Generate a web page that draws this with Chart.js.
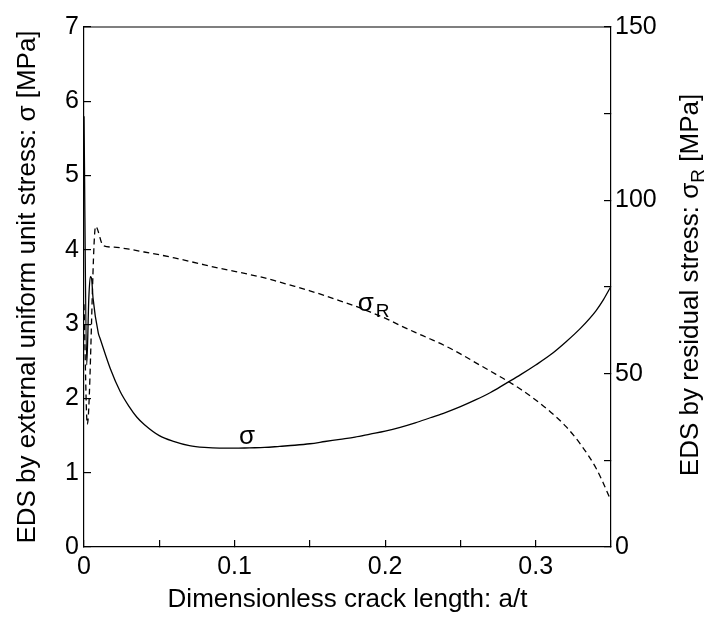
<!DOCTYPE html>
<html>
<head>
<meta charset="utf-8">
<script src="https://cdn.jsdelivr.net/npm/chart.js@4.4.1/dist/chart.umd.min.js"></script>
<style>
  html, body { margin: 0; padding: 0; background: #fff; }
  #edsChart { display: block; }
</style>
</head>
<body>
<canvas id="edsChart" width="705" height="618"></canvas>
<script>
// sigma: EDS by external uniform unit stress (left axis) vs a/t
const sigmaX = [0, 0.0018, 0.0032, 0.0042, 0.0050, 0.0060, 0.0095, 0.0108, 0.0175, 0.0241, 0.030,
                0.035, 0.04, 0.05, 0.06, 0.07, 0.08, 0.09, 0.10, 0.11, 0.12,
                0.13, 0.14, 0.15, 0.16, 0.17, 0.18, 0.19, 0.20, 0.21, 0.22,
                0.23, 0.24, 0.25, 0.26, 0.27, 0.28, 0.29, 0.30, 0.31, 0.32,
                0.33, 0.34, 0.345, 0.35];
const sigmaY = [5.8, 2.45, 3.35, 3.64, 3.62, 3.35, 2.88, 2.80, 2.40, 2.09, 1.89,
                1.75, 1.65, 1.50, 1.42, 1.365, 1.34, 1.33, 1.33, 1.335, 1.34,
                1.355, 1.37, 1.39, 1.42, 1.45, 1.48, 1.52, 1.56, 1.61, 1.67,
                1.74, 1.81, 1.89, 1.98, 2.08, 2.20, 2.32, 2.45, 2.59, 2.76,
                2.95, 3.18, 3.33, 3.51];

// sigma_R: EDS by residual stress (right axis) vs a/t
const sigmaRX = [0, 0.0022, 0.0077, 0.0128, 0.02, 0.03, 0.04, 0.05, 0.06, 0.07,
                 0.08, 0.09, 0.10, 0.11, 0.12, 0.13, 0.14, 0.15, 0.16, 0.17,
                 0.18, 0.19, 0.20, 0.21, 0.22, 0.23, 0.24, 0.25, 0.26, 0.27,
                 0.28, 0.29, 0.30, 0.31, 0.32, 0.33, 0.34, 0.345, 0.35];
const sigmaRY = [70, 35.4, 92.5, 86.9, 86.5, 85.9, 85.1, 84.3, 83.4, 82.4,
                 81.4, 80.4, 79.5, 78.6, 77.6, 76.4, 75.2, 73.9, 72.5, 71.0,
                 69.5, 67.8, 66.0, 63.9, 61.9, 60.0, 58.0, 55.7, 53.2, 50.7,
                 48.2, 45.5, 42.4, 38.9, 34.8, 29.5, 22.8, 18.3, 13.3];

// labelled ticks
const xLabels = [0, 0.1, 0.2, 0.3];
const leftLabels = [0, 1, 2, 3, 4, 5, 6, 7];
const rightLabels = [0, 50, 100, 150];

// curve labels, in data units of the left axis
const curveLabels = [
    { text: 'σ', sub: '', x: 0.1082, y: 1.475 },
    { text: 'σ', sub: 'R', x: 0.1871, y: 3.264 }
];

const FONT = '"Liberation Sans", Arial, sans-serif';

function toPoints(xs, ys) {
    return xs.map((x, i) => ({ x: x, y: ys[i] }));
}

const framePlugin = {
    id: 'frame',
    afterDraw(chart) {
        const ctx = chart.ctx;
        const a = chart.chartArea;
        ctx.save();
        ctx.strokeStyle = '#000';
        ctx.lineWidth = 1.2;
        ctx.beginPath();
        ctx.moveTo(a.left, a.top);
        ctx.lineTo(a.right, a.top);
        ctx.stroke();

        // right axis title with subscript
        const size = 26;
        const p1 = 'EDS by residual stress: σ', sub = 'R', p2 = ' [MPa]';
        ctx.font = size + 'px ' + FONT;
        const w1 = ctx.measureText(p1).width;
        const w2 = ctx.measureText(p2).width;
        ctx.font = '19px ' + FONT;
        const ws = ctx.measureText(sub).width;
        const total = w1 + ws + w2;
        ctx.translate(689, (a.top + a.bottom) / 2);
        ctx.rotate(-Math.PI / 2);
        ctx.fillStyle = '#000';
        ctx.textBaseline = 'alphabetic';
        ctx.textAlign = 'left';
        const base = size * 0.36;
        let x = -total / 2 + 2;
        ctx.font = size + 'px ' + FONT;
        ctx.fillText(p1, x, base);
        x += w1;
        ctx.font = '19px ' + FONT;
        ctx.fillText(sub, x, base + 6);
        x += ws;
        ctx.font = size + 'px ' + FONT;
        ctx.fillText(p2, x, base);
        ctx.restore();
    },
    afterDatasetsDraw(chart) {
        const ctx = chart.ctx;
        const xs = chart.scales.x, ys = chart.scales.y;
        ctx.save();
        ctx.fillStyle = '#000';
        ctx.textBaseline = 'alphabetic';
        curveLabels.forEach(l => {
            const px = xs.getPixelForValue(l.x);
            const py = ys.getPixelForValue(l.y);
            ctx.font = '26px ' + FONT;
            ctx.textAlign = 'center';
            ctx.fillText(l.text, px, py + 6.5);
            if (l.sub) {
                const w = ctx.measureText(l.text).width;
                ctx.font = '19px ' + FONT;
                ctx.textAlign = 'left';
                ctx.fillText(l.sub, px + w / 2 + 2, py + 12.5);
            }
        });
        ctx.restore();
    }
};

const tickFont = { family: FONT, size: 25 };
const titleFont = { family: FONT, size: 26 };

new Chart(document.getElementById('edsChart').getContext('2d'), {
    type: 'scatter',
    data: {
        datasets: [{
            label: 'σ',
            data: toPoints(sigmaX, sigmaY),
            showLine: true,
            borderColor: '#000',
            borderWidth: 1.3,
            pointRadius: 0,
            cubicInterpolationMode: 'monotone',
            yAxisID: 'y'
        }, {
            label: 'σR',
            data: toPoints(sigmaRX, sigmaRY),
            showLine: true,
            borderColor: '#000',
            borderWidth: 1.3,
            borderDash: [6, 4],
            pointRadius: 0,
            cubicInterpolationMode: 'monotone',
            yAxisID: 'y2'
        }]
    },
    options: {
        responsive: false,
        animation: false,
        layout: { padding: { top: 21, left: 0, right: 0, bottom: 0 } },
        plugins: { legend: { display: false }, tooltip: { enabled: false } },
        scales: {
            x: {
                type: 'linear',
                min: 0,
                max: 0.35,
                afterFit: s => { s.height = 71; },
                border: { color: '#000', width: 1.2 },
                grid: { drawOnChartArea: false, drawTicks: true, tickLength: -7, color: '#000', lineWidth: 1.2 },
                ticks: {
                    stepSize: 0.05,
                    autoSkip: false,
                    maxRotation: 0,
                    padding: 12,
                    color: '#000',
                    font: tickFont,
                    callback: v => {
                        const k = Math.round(v * 100) / 100;
                        return xLabels.includes(k) ? String(k) : '';
                    }
                },
                title: {
                    display: true,
                    text: 'Dimensionless crack length: a/t',
                    color: '#000',
                    font: titleFont,
                    padding: { top: 0, bottom: 3 }
                }
            },
            y: {
                position: 'left',
                min: 0,
                max: 7,
                afterFit: s => { s.width = 84; },
                border: { color: '#000', width: 1.2 },
                grid: { drawOnChartArea: false, drawTicks: true, tickLength: -7, color: '#000', lineWidth: 1.2 },
                ticks: {
                    stepSize: 1,
                    padding: 12,
                    color: '#000',
                    font: tickFont,
                    callback: v => leftLabels.includes(v) ? String(v) : ''
                },
                title: {
                    display: true,
                    text: 'EDS by external uniform unit stress: σ [MPa]',
                    color: '#000',
                    font: titleFont,
                    padding: { top: 12, bottom: 0 }
                }
            },
            y2: {
                position: 'right',
                min: 0,
                max: 150,
                afterFit: s => { s.width = 94; },
                border: { color: '#000', width: 1.2 },
                grid: { drawOnChartArea: false, drawTicks: true, tickLength: -7, color: '#000', lineWidth: 1.2 },
                ticks: {
                    stepSize: 25,
                    padding: 11,
                    color: '#000',
                    font: tickFont,
                    callback: v => rightLabels.includes(v) ? String(v) : ''
                }
            }
        }
    },
    plugins: [framePlugin]
});
</script>
</body>
</html>
